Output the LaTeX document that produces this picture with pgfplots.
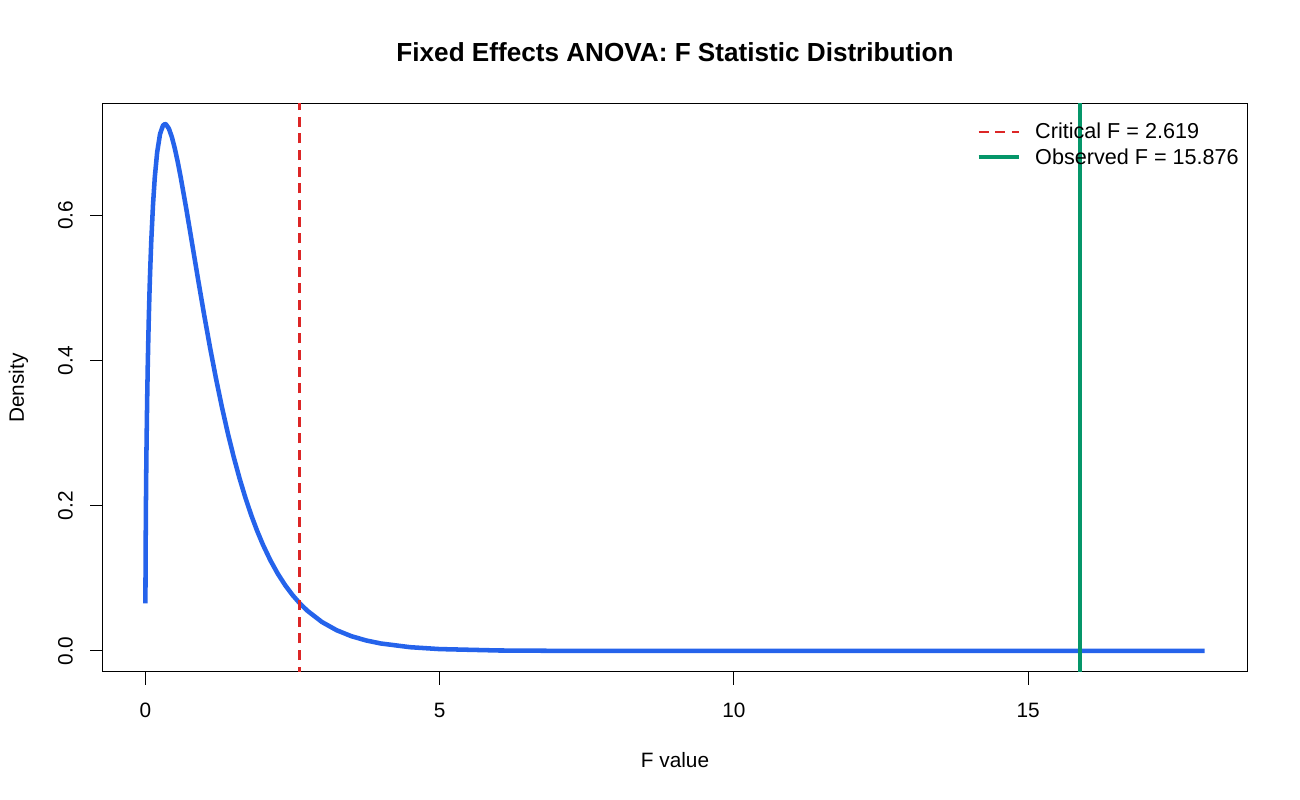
\documentclass[border=0pt]{standalone}
\usepackage{pgfplots}
\pgfplotsset{compat=1.18}
\usepackage{fontspec}
\setmainfont{Liberation Sans}
\definecolor{cblue}{HTML}{2563EB}
\definecolor{cred}{HTML}{DC2626}
\definecolor{cgreen}{HTML}{059669}
\begin{document}
\begin{tikzpicture}
\path[use as bounding box] (0,0) rectangle (975pt,600pt);
\begin{axis}[
  at={(77.25pt,96pt)}, anchor=south west,
  scale only axis, width=858pt, height=426pt,
  xmin=-0.72, xmax=18.72, ymin=-0.029, ymax=0.7535,
  axis line style={line width=0.75pt},
  tick style={line width=0.75pt, black},
  tick align=outside, major tick length=9.75pt,
  xtick={0,5,10,15}, ytick={0,0.2,0.4,0.6},
  xtick pos=bottom, ytick pos=left,
  yticklabel={\pgfmathprintnumber[fixed,fixed zerofill,precision=1]{\tick}},
  /pgf/number format/assume math mode=true,
  ticklabel style={font=\fontsize{15.6}{18}\selectfont},
  xticklabel style={anchor=base, inner sep=0pt, yshift=-24.75pt},
  yticklabel style={rotate=90, anchor=base, inner sep=0pt, yshift=13pt},
  xlabel={F value}, ylabel={Density},
  label style={font=\fontsize{15.6}{18}\selectfont},
  xlabel style={at={(axis description cs:0.5,0)}, anchor=base, inner sep=0pt, yshift=-72pt},
  ylabel style={at={(axis description cs:0,0.5)}, anchor=base, rotate=0, inner sep=0pt, yshift=59.25pt},
  title={\textbf{Fixed Effects ANOVA: F Statistic Distribution}},
  title style={font=\fontsize{19.6}{23}\selectfont, at={(axis description cs:0.5,1)}, anchor=base, inner sep=0pt, yshift=25.5pt},
  legend style={draw=none, fill=none, at={(1,1)}, anchor=north east,
    font=\fontsize{16.2}{19}\selectfont, row sep=2pt, inner xsep=4pt, inner ysep=12pt,
    legend cell align=left},
  legend image code/.code={\draw[#1] (0pt,0pt) -- (30pt,0pt); \path[draw=none] (30pt,0pt) -- (40.5pt,0pt);},
]
\addplot[cblue, line width=3.4pt, line join=round, forget plot] coordinates {
(0.001,0.06546) (0.003,0.11303) (0.005,0.14549) (0.01,0.20421) (0.015,0.24823)
(0.02,0.28450) (0.03,0.34325) (0.04,0.39045) (0.05,0.43004) (0.06,0.46407)
(0.07,0.49379) (0.08,0.52003) (0.10,0.56422) (0.13,0.61500) (0.16,0.65227)
(0.20,0.68678) (0.25,0.71237) (0.30,0.72397) (0.3333,0.72590) (0.35,0.72548)
(0.40,0.71953) (0.45,0.70803) (0.50,0.69240) (0.55,0.67372) (0.60,0.65284)
(0.70,0.60692) (0.80,0.55845) (0.90,0.50982) (1.0,0.46254) (1.1,0.41755)
(1.2,0.37537) (1.3,0.33627) (1.4,0.30036) (1.5,0.26759) (1.6,0.23787)
(1.7,0.21104) (1.8,0.18691) (1.9,0.16528) (2.0,0.14596) (2.125,0.12473)
(2.25,0.10640) (2.375,0.09063) (2.5,0.07708) (2.625,0.06548) (2.75,0.05556)
(3.0,0.03989) (3.25,0.02854) (3.5,0.02035) (3.75,0.01448) (4.0,0.01028)
(4.5,0.00515) (5.0,0.00256) (6.0,0.00063) (7.0,0.00015) (8.0,0.00004)
(10.0,0.00000) (14.0,0.00000) (18.0,0.00000)
};
\addplot[cred, line width=1.6pt, dash pattern=on 7.5pt off 5pt] coordinates {(2.619,-1) (2.619,1)};
\addlegendentry{Critical F = 2.619}
\addplot[cgreen, line width=3pt] coordinates {(15.876,-1) (15.876,1)};
\addlegendentry{Observed F = 15.876}
\end{axis}
\end{tikzpicture}
\end{document}
